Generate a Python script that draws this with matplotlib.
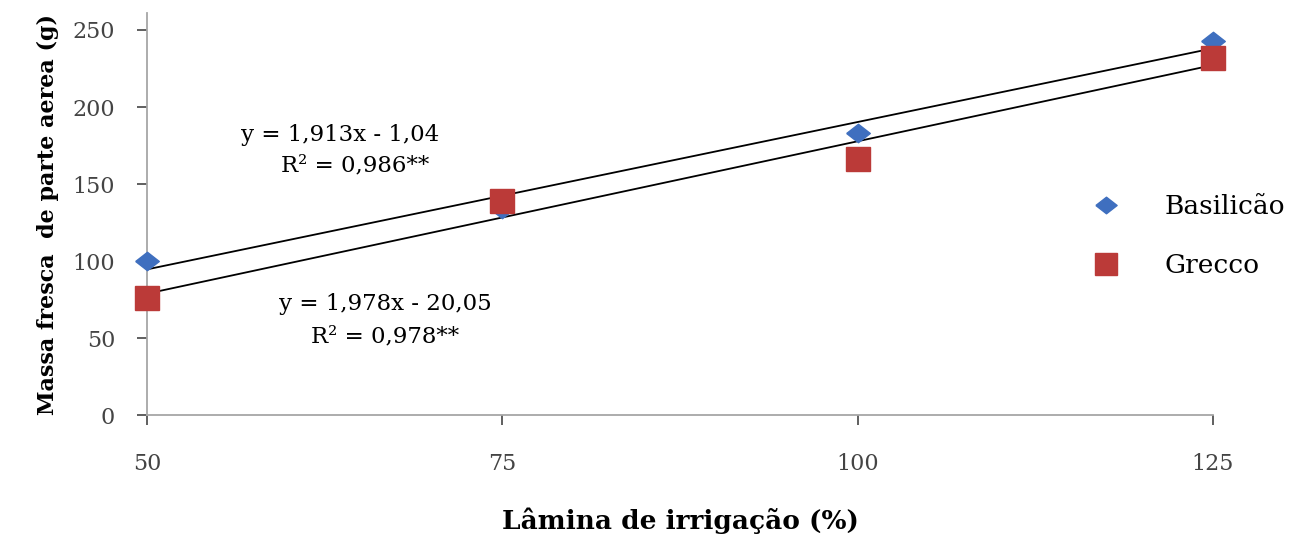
import matplotlib.pyplot as plt
import numpy as np

# irrigation depth (%) and fresh mass of aerial part (g)
lamina = [50, 75, 100, 125]
basilicao = [100, 134, 183, 243]
grecco = [76, 139, 166, 232]

# fitted linear trends (slope, intercept) as printed on the chart
fit_basilicao = (1.913, -1.04)
fit_grecco = (1.978, -20.05)

eq_basilicao = ["y = 1,913x - 1,04", "R² = 0,986**"]
eq_grecco = ["y = 1,978x - 20,05", "R² = 0,978**"]

plt.rcParams["font.family"] = ["DejaVu Serif"]

fig = plt.figure(figsize=(13.14, 5.44), dpi=100)
ax = fig.add_axes([0.112, 0.237, 0.811, 0.739])

x_line = np.array([lamina[0], lamina[-1]])
for slope, icpt in (fit_basilicao, fit_grecco):
    ax.plot(x_line, slope * x_line + icpt, color="black", linewidth=1.3, zorder=2)

diamond = [(-1, 0), (0, 0.78), (1, 0), (0, -0.78), (-1, 0)]
ax.plot(lamina, basilicao, linestyle="none", marker=diamond, markersize=17,
        color="#3f6fbf", label="Basilicão", zorder=3, clip_on=False)
ax.plot(lamina, grecco, linestyle="none", marker="s", markersize=17,
        color="#bb3a38", label="Grecco", zorder=4, clip_on=False)

ax.set_xlim(50, 125)
ax.set_ylim(0, 261)
ax.set_xticks(lamina)
ax.set_yticks([0, 50, 100, 150, 200, 250])

for sp in ("top", "right"):
    ax.spines[sp].set_visible(False)
for sp in ("left", "bottom"):
    ax.spines[sp].set_color("#a6a6a6")
    ax.spines[sp].set_linewidth(1.3)
ax.tick_params(axis="both", colors="#444444", labelsize=16, length=7, width=1.2)
ax.tick_params(axis="y", pad=16)
ax.tick_params(axis="x", pad=20)

ax.set_xlabel("Lâmina de irrigação (%)", fontsize=19, fontweight="bold", labelpad=24)
ax.set_ylabel("Massa fresca  de parte aerea (g)", fontsize=16, fontweight="bold", labelpad=10)

# equation annotations placed in figure coordinates
fig.text(340 / 1314, 1 - 135 / 544, eq_basilicao[0], fontsize=16.5, ha="center", va="center")
fig.text(355 / 1314, 1 - 165 / 544, eq_basilicao[1], fontsize=16.5, ha="center", va="center")
fig.text(385 / 1314, 1 - 304 / 544, eq_grecco[0], fontsize=16.5, ha="center", va="center")
fig.text(385 / 1314, 1 - 336 / 544, eq_grecco[1], fontsize=16.5, ha="center", va="center")

fig.legend(loc="center left", bbox_to_anchor=(1062 / 1314, 1 - 236 / 544),
           frameon=False, fontsize=19, handletextpad=1.5, labelspacing=1.3,
           markerscale=0.9, handlelength=1.5)

fig.savefig("out.png", dpi=100)
